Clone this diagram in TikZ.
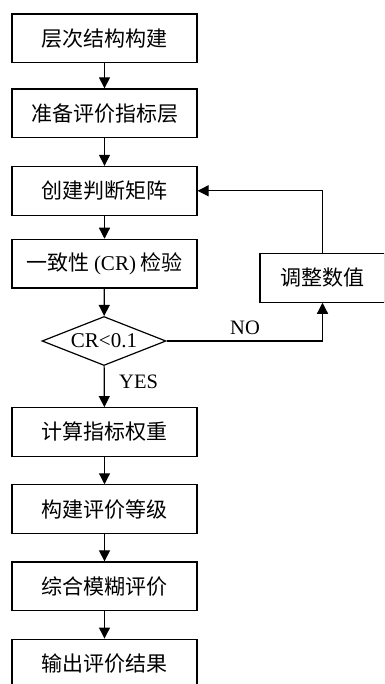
\documentclass[tikz,border=0pt]{standalone}
\usepackage{fontspec}
\setmainfont{Liberation Serif}
\newfontfamily\cjk{Noto Sans CJK SC}
\usetikzlibrary{shapes.geometric,arrows.meta}
\tikzset{
  stepbox/.style={draw,line width=1.2pt,minimum width=185pt,minimum height=48.7pt,inner sep=0pt,font=\fontsize{21}{23}\selectfont\cjk},
  decide/.style={draw,diamond,line width=1.2pt,minimum width=124pt,minimum height=49pt,aspect=2.5,inner sep=0pt,font=\fontsize{21}{23}\selectfont},
  lbl/.style={font=\fontsize{20.5}{22}\selectfont,inner sep=0pt},
  flow/.style={line width=1.2pt,-{Triangle[width=11pt,length=11pt]}}
}
\begin{document}
\begin{tikzpicture}[x=1pt,y=-1pt]
\useasboundingbox (0,0) rectangle (384,684);
\clip (0,0) rectangle (384,684);
\node[stepbox] (b1) at (104.5,38.3) {层次结构构建};
\node[stepbox] (b2) at (104.5,113.3) {准备评价指标层};
\node[stepbox] (b3) at (104.5,190.8) {创建判断矩阵};
\node[stepbox] (b4) at (104.5,263.7) {一致性 {\rmfamily (CR)} 检验};
\node[decide] (d) at (104,341) {CR<0.1};
\node[stepbox] (b5) at (104.5,432) {计算指标权重};
\node[stepbox] (b6) at (104.5,509.2) {构建评价等级};
\node[stepbox] (b7) at (104.5,586.3) {综合模糊评价};
\node[stepbox] (b8) at (104.5,663.5) {输出评价结果};
\node[stepbox,minimum width=125pt] (adj) at (322.5,277.8) {调整数值};
\draw[flow] (b1) -- (b2);
\draw[flow] (b2) -- (b3);
\draw[flow] (b3) -- (b4);
\draw[flow] (b4) -- (d);
\draw[flow] (d) -- (b5);
\draw[flow] (b5) -- (b6);
\draw[flow] (b6) -- (b7);
\draw[flow] (b7) -- (b8);
\draw[flow] (d.east) -| (adj.south);
\draw[flow] (adj.north) |- (b3.east);
\node[lbl] (no) at (245,328) {NO};
\node[lbl,anchor=west] (yes) at (119,382) {YES};
\end{tikzpicture}
\end{document}
